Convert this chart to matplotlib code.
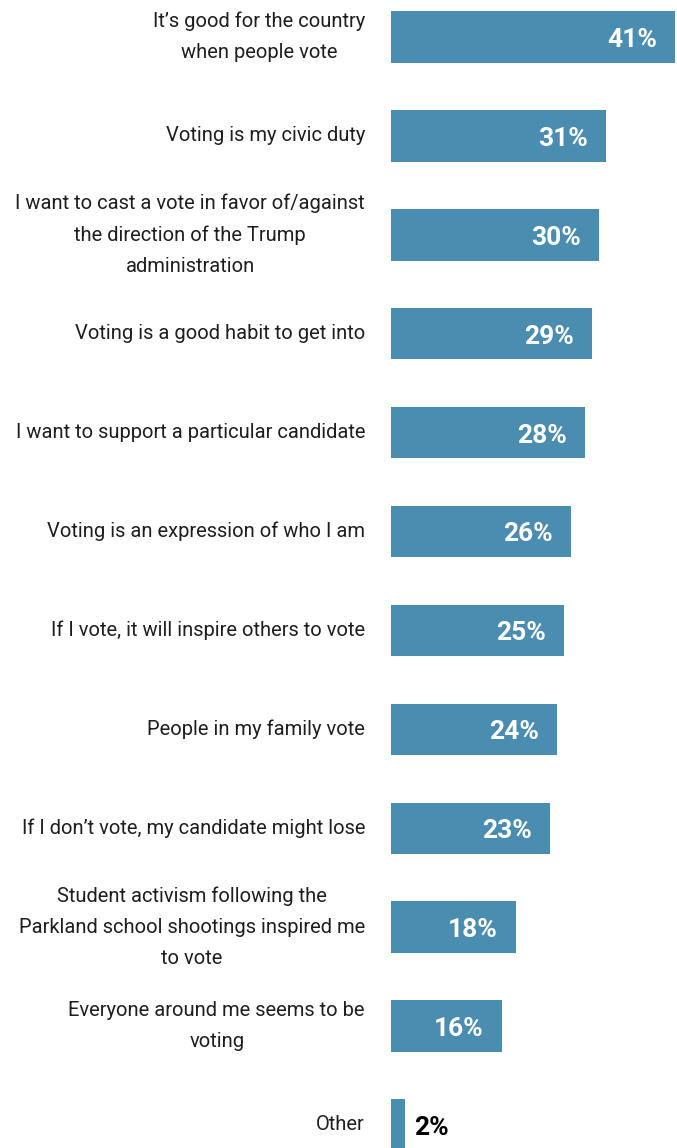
import matplotlib
matplotlib.use("Agg")
import matplotlib.pyplot as plt
import matplotlib.transforms as mtransforms

# Reasons for voting, share of respondents (%)
reasons = [
    "It\u2019s good for the country\nwhen people vote",
    "Voting is my civic duty",
    "I want to cast a vote in favor of/against\nthe direction of the Trump\nadministration",
    "Voting is a good habit to get into",
    "I want to support a particular candidate",
    "Voting is an expression of who I am",
    "If I vote, it will inspire others to vote",
    "People in my family vote",
    "If I don\u2019t vote, my candidate might lose",
    "Student activism following the\nParkland school shootings inspired me\nto vote",
    "Everyone around me seems to be\nvoting",
    "Other",
]
shares = [41, 31, 30, 29, 28, 26, 25, 24, 23, 18, 16, 2]

family = "Roboto"
bar_color = "#4A8DB0"

fig = plt.figure(figsize=(6.77, 11.48), dpi=100)
ax = fig.add_axes([391 / 677, 0, (675 - 391) / 677, 1])

pos = list(range(len(shares)))
ax.barh(pos, shares, height=0.52, color=bar_color)
ax.set_xlim(0, 41)
ax.set_ylim(11.233, -0.374)
ax.axis("off")

# category labels sit left of the bars, right-aligned at a fixed x
trans = mtransforms.blended_transform_factory(fig.transFigure, ax.transData)
for y, label, v in zip(pos, reasons, shares):
    ax.text(365 / 677, y, label, transform=trans, ha="right", va="center",
            multialignment="center", fontsize=14.5, family=family,
            color="#1e1e1e", linespacing=1.8)
    if v >= 10:
        ax.text(v - 2.6, y + 0.03, f"{v}%", ha="right", va="center",
                fontsize=19, fontweight="bold", family=family, color="white")
    else:
        ax.text(v + 1.4, y + 0.03, f"{v}%", ha="left", va="center",
                fontsize=19, fontweight="bold", family=family, color="black")

fig.savefig("out.png", dpi=100)
